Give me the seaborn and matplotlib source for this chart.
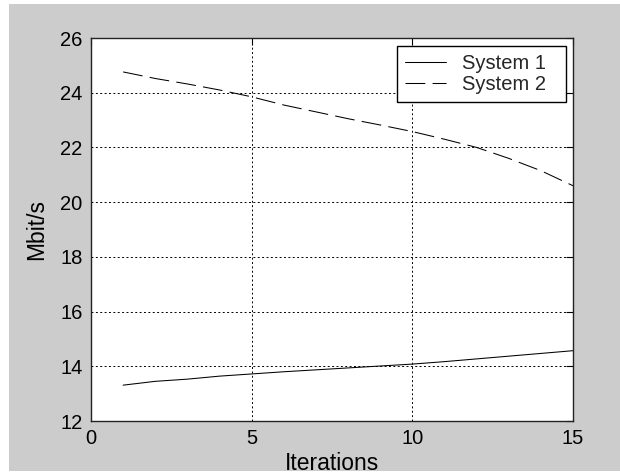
import matplotlib
matplotlib.use("Agg")
import matplotlib.pyplot as plt
import seaborn as sns
import pandas as pd
from matplotlib.patches import Rectangle

iterations = list(range(1, 16))
system1 = [13.31, 13.45, 13.53, 13.64, 13.72, 13.80, 13.87, 13.94, 14.01, 14.08,
           14.17, 14.27, 14.37, 14.47, 14.57]
system2 = [24.76, 24.52, 24.32, 24.10, 23.85, 23.55, 23.30, 23.05, 22.82, 22.58,
           22.30, 22.00, 21.60, 21.15, 20.60]
series_names = ["System 1", "System 2"]
x_ticks = [0, 5, 10, 15]
y_ticks = [12, 14, 16, 18, 20, 22, 24, 26]

df = pd.DataFrame({
    "Iterations": iterations * 2,
    "Mbit/s": system1 + system2,
    "series": [series_names[0]] * len(iterations) + [series_names[1]] * len(iterations),
})

sns.set_theme(style="white")
plt.rcParams["font.family"] = ["Liberation Sans", "DejaVu Sans"]

fig = plt.figure(figsize=(6.2, 4.75), dpi=100, facecolor="white")
fig.patches.append(Rectangle((9 / 620, 4 / 475), 1 - 9 / 620, 1 - 8 / 475,
                             transform=fig.transFigure, facecolor="#cccccc",
                             edgecolor="none", zorder=-10))
ax = fig.add_axes([91 / 620, 1 - 421 / 475, (573 - 91) / 620, (421 - 38) / 475])
ax.set_facecolor("white")

sns.lineplot(data=df, x="Iterations", y="Mbit/s", style="series", ax=ax,
             color="black", linewidth=0.75,
             dashes={"System 1": "", "System 2": (19, 7)})

ax.set_xlim(0, 15)
ax.set_ylim(12, 26)
ax.set_xticks(x_ticks)
ax.set_yticks(y_ticks)
ax.grid(True, color="black", linestyle=(0, (2, 2.5)), linewidth=0.7)
ax.tick_params(direction="in", length=5, width=0.8, colors="black",
               top=True, right=True, labelsize=14.5, pad=6)
for s in ax.spines.values():
    s.set_visible(True)
    s.set_color("#222222")
    s.set_linewidth(1.0)

ax.set_xlabel("Iterations", fontsize=16.5, color="black", labelpad=3)
ax.set_ylabel("Mbit/s", fontsize=16.5, color="black", labelpad=9)

leg = ax.legend(loc="upper left", bbox_to_anchor=(0.635, 0.0, 0.3505, 0.98),
                mode="expand", borderaxespad=0.0,
                fontsize=14.5, frameon=True, fancybox=False,
                edgecolor="black", framealpha=1, handlelength=2.05,
                labelspacing=0.1, handletextpad=0.75, borderpad=0.4)
leg.get_frame().set_linewidth(1.0)

fig.savefig("out.png", dpi=100, facecolor="white")
